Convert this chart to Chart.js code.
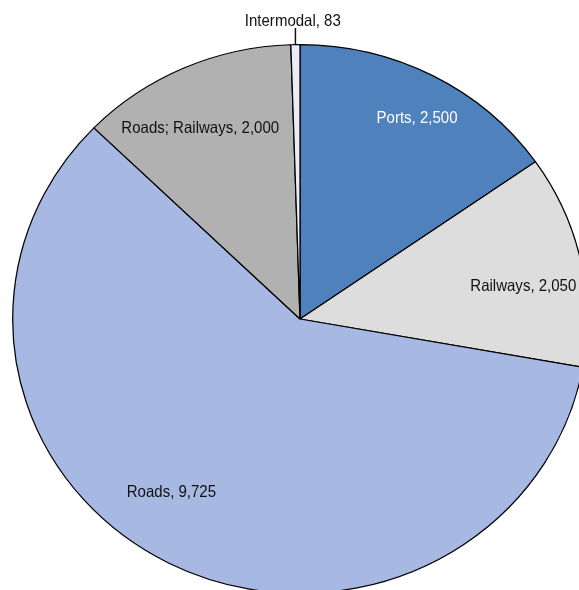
<!DOCTYPE html>
<html>
<head>
<meta charset="utf-8">
<script src="https://cdn.jsdelivr.net/npm/chart.js@4.4.1/dist/chart.umd.min.js"></script>
<style>
  html, body { margin: 0; padding: 0; background: #ffffff; overflow: hidden; }
  #wrap { width: 579px; height: 590px; overflow: hidden; position: relative; }
  canvas { display: block; }
</style>
</head>
<body>
<div id="wrap"><canvas id="c" width="579" height="612"></canvas></div>
<script>
// Freight projects by mode
const categories = ['Ports', 'Railways', 'Roads', 'Roads; Railways', 'Intermodal'];
const values = [2500, 2050, 9725, 2000, 83];
const sliceColors = ['#4F81BD', '#DDDDDD', '#A7B8E2', '#B1B1B1', '#E9EDF7'];
const labelColors = ['#ffffff', '#111111', '#111111', '#111111', '#111111'];
// label placement: [fraction of radius, angle shift in degrees from the slice middle]
const labelPlacement = [[0.84, 1.5], [0.787, 3.4], [0.77, 8.4], [0.78, -2.6], [1.09, -0.4]];
const outsideLabel = [false, false, false, false, true];

// horizontal stretch of the pie (drawn as a slightly wide ellipse)
const STRETCH_X = 1.047;
// labels use a slightly condensed face
const TEXT_SCALE_X = 0.91;

function fmt(v) { return v.toLocaleString('en-US'); }

const stretchPlugin = {
  id: 'stretchPie',
  beforeDatasetsDraw(chart) {
    const arc = chart.getDatasetMeta(0).data[0];
    const ctx = chart.ctx;
    ctx.save();
    ctx.translate(arc.x, 0);
    ctx.scale(STRETCH_X, 1);
    ctx.translate(-arc.x, 0);
  },
  afterDatasetsDraw(chart) {
    chart.ctx.restore();
  }
};

const labelPlugin = {
  id: 'sliceLabels',
  afterDraw(chart) {
    const ctx = chart.ctx;
    const meta = chart.getDatasetMeta(0);
    meta.data.forEach((arc, i) => {
      const p = arc.getProps(['x', 'y', 'startAngle', 'endAngle', 'outerRadius'], true);
      const [frac, shift] = labelPlacement[i];
      const mid = (p.startAngle + p.endAngle) / 2 + shift * Math.PI / 180;
      const r = p.outerRadius * frac;
      const lx = p.x + Math.cos(mid) * r * STRETCH_X;
      const ly = p.y + Math.sin(mid) * r;
      const text = categories[i] + ', ' + fmt(values[i]);
      if (outsideLabel[i]) {
        const midTrue = (p.startAngle + p.endAngle) / 2;
        const ex = p.x + Math.cos(midTrue) * p.outerRadius * STRETCH_X;
        const ey = p.y + Math.sin(midTrue) * p.outerRadius;
        ctx.save();
        ctx.strokeStyle = '#111111';
        ctx.lineWidth = 1.5;
        ctx.beginPath();
        ctx.moveTo(ex, ly + 8);
        ctx.lineTo(ex, ey);
        ctx.stroke();
        ctx.restore();
      }
      ctx.save();
      ctx.translate(lx, ly + 6);
      ctx.scale(TEXT_SCALE_X, 1);
      ctx.font = '16.5px "Liberation Sans", Arial, sans-serif';
      ctx.textAlign = 'center';
      ctx.textBaseline = 'alphabetic';
      ctx.fillStyle = labelColors[i];
      ctx.fillText(text, 0, 0);
      ctx.restore();
    });
  }
};

new Chart(document.getElementById('c'), {
  type: 'pie',
  data: {
    labels: categories,
    datasets: [{
      data: values,
      backgroundColor: sliceColors,
      borderColor: '#000000',
      borderWidth: 1.2,
      hoverOffset: 0
    }]
  },
  options: {
    responsive: false,
    animation: false,
    events: [],
    layout: { padding: { left: 25, right: 4, top: 44, bottom: 18 } },
    plugins: {
      legend: { display: false },
      tooltip: { enabled: false },
      title: { display: false }
    }
  },
  plugins: [stretchPlugin, labelPlugin]
});
</script>
</body>
</html>
